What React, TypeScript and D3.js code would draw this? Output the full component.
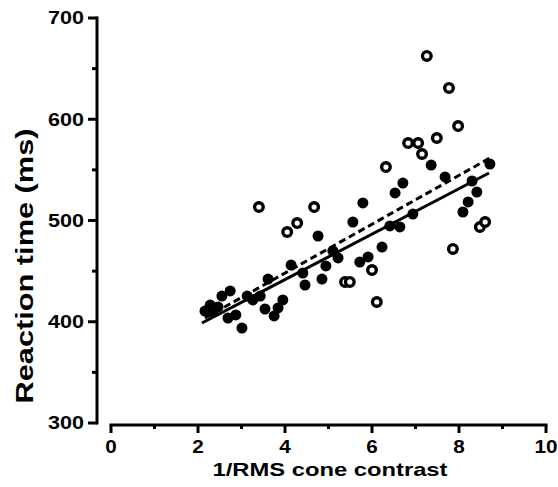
import { scaleLinear, line } from 'd3';

// values
const filledX = [2.16, 2.28, 2.34, 2.46, 2.55, 2.74, 2.69, 2.87, 3.01, 3.13, 3.26, 3.43, 3.54, 3.61, 3.75, 3.84, 3.95, 4.14, 4.41, 4.46, 4.76, 4.85, 4.94, 5.10, 5.22, 5.56, 5.72, 5.79, 5.91, 6.23, 6.41, 6.53, 6.64, 6.71, 6.94, 7.36, 7.68, 8.09, 8.21, 8.30, 8.41, 8.71];
const filledY = [410.6, 416.5, 409.6, 414.6, 425.4, 430.4, 403.7, 406.7, 393.8, 425.4, 421.5, 425.4, 412.6, 442.2, 405.7, 413.6, 421.5, 456.0, 448.1, 436.3, 484.7, 442.2, 455.1, 469.9, 463.0, 498.5, 459.0, 517.3, 464.0, 473.8, 494.6, 527.2, 493.6, 537.0, 506.4, 554.8, 543.0, 508.4, 518.3, 539.0, 528.1, 555.8];

const openX = [3.40, 4.05, 4.28, 4.67, 5.38, 5.49, 6.00, 6.11, 6.32, 6.83, 7.06, 7.15, 7.49, 7.26, 7.77, 7.98, 7.86, 8.48, 8.60];
const openY = [513.3, 488.6, 497.5, 513.3, 439.3, 439.3, 451.1, 419.5, 552.8, 576.5, 576.5, 565.7, 581.5, 662.5, 630.9, 593.3, 471.9, 493.6, 498.5];

// regression lines (end points)
const solidFit: [number, number][] = [[2.09, 398.8], [8.69, 546.9]];
const dashedFit: [number, number][] = [[2.16, 403.7], [8.71, 561.7]];

const xTicks = [0, 2, 4, 6, 8, 10];
const xMinor = [1, 3, 5, 7, 9];
const yTicks = [300, 400, 500, 600, 700];
const yMinor = [350, 450, 550, 650];

const W = 558, H = 487;
const FONT = '"Liberation Sans", Arial, sans-serif';

export default function App() {
  const x = scaleLinear().domain([0, 10]).range([111, 546]);
  const y = scaleLinear().domain([300, 700]).range([423, 18]);
  const yAxisX = 97;
  const xAxisY = 425;

  const path = line<[number, number]>()
    .x(d => x(d[0]))
    .y(d => y(d[1]));

  return (
    <svg width={W} height={H} style={{ position: 'absolute', left: 0, top: 0, background: '#fff' }}>
      {/* y axis */}
      <g stroke="#000" strokeWidth={3} fill="none">
        <line x1={yAxisX} x2={yAxisX} y1={y(700) - 1.5} y2={y(300) + 1.5} />
        {yTicks.map(t => (
          <line key={t} x1={yAxisX - 9} x2={yAxisX} y1={y(t)} y2={y(t)} />
        ))}
        {yMinor.map(t => (
          <line key={t} x1={yAxisX - 5} x2={yAxisX} y1={y(t)} y2={y(t)} />
        ))}
      </g>
      {yTicks.map(t => (
        <text key={t} x={84} y={y(t)} dy="0.35em" textAnchor="end"
          fontFamily={FONT} fontWeight="bold" fontSize={18}
          textLength={String(t).length * 12} lengthAdjust="spacingAndGlyphs">{t}</text>
      ))}
      <text transform={`translate(33,266) rotate(-90)`} textAnchor="middle"
        fontFamily={FONT} fontWeight="bold" fontSize={23}
        textLength={275} lengthAdjust="spacingAndGlyphs">Reaction time (ms)</text>

      {/* x axis */}
      <g stroke="#000" strokeWidth={3} fill="none">
        <line x1={x(0) - 1.5} x2={x(10) + 1.5} y1={xAxisY} y2={xAxisY} />
        {xTicks.map(t => (
          <line key={t} x1={x(t)} x2={x(t)} y1={xAxisY} y2={xAxisY + 8} />
        ))}
        {xMinor.map(t => (
          <line key={t} x1={x(t)} x2={x(t)} y1={xAxisY} y2={xAxisY + 4} />
        ))}
      </g>
      {xTicks.map(t => (
        <text key={t} x={x(t)} y={453} textAnchor="middle"
          fontFamily={FONT} fontWeight="bold" fontSize={18}
          textLength={String(t).length * 11.5} lengthAdjust="spacingAndGlyphs">{t}</text>
      ))}
      <text x={330} y={476} textAnchor="middle"
        fontFamily={FONT} fontWeight="bold" fontSize={19}
        textLength={235} lengthAdjust="spacingAndGlyphs">1/RMS cone contrast</text>

      {/* fit lines */}
      <path d={path(solidFit) || ''} stroke="#000" strokeWidth={3} fill="none" />
      <path d={path(dashedFit) || ''} stroke="#000" strokeWidth={3} fill="none" strokeDasharray="7,4" />

      {/* points */}
      {filledX.map((v, i) => (
        <circle key={'f' + i} cx={x(v)} cy={y(filledY[i])} r={5.5} fill="#000" />
      ))}
      {openX.map((v, i) => (
        <circle key={'o' + i} cx={x(v)} cy={y(openY[i])} r={4.3} fill="#fff" stroke="#000" strokeWidth={3.4} />
      ))}
    </svg>
  );
}
